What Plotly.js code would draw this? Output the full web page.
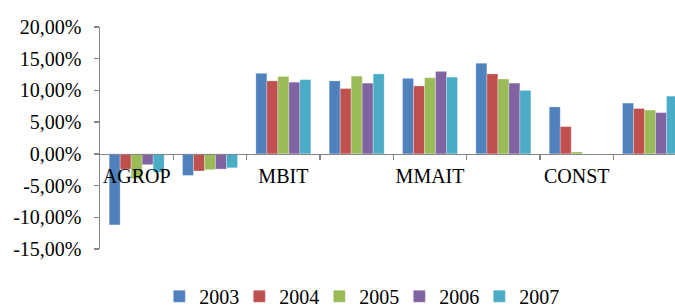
<!DOCTYPE html>
<html>
<head>
<meta charset="utf-8">
<script src="https://cdn.plot.ly/plotly-3.0.1.min.js"></script>
<style>html,body{margin:0;padding:0;background:#fff;}#chart{width:675px;height:307px;}</style>
</head>
<body>
<div id="chart"></div>
<script>
// Category labels as shown (every other label is hidden in the original chart)
const categories = ['AGROP', '', 'MBIT', '', 'MMAIT', '', 'CONST', ''];
const years = ['2003', '2004', '2005', '2006', '2007'];
const colors = ['#4F81BD', '#C0504D', '#9BBB59', '#8064A2', '#4BACC6'];

// Values in percent
const v2003 = [-11.2, -3.4, 12.7, 11.5, 11.9, 14.3, 7.4, 8.0];
const v2004 = [-2.4, -2.7, 11.5, 10.3, 10.7, 12.6, 4.3, 7.15];
const v2005 = [-3.9, -2.5, 12.2, 12.25, 12.0, 11.8, 0.3, 6.9];
const v2006 = [-1.7, -2.4, 11.3, 11.15, 13.0, 11.15, 0, 6.5];
const v2007 = [-2.9, -2.2, 11.7, 12.6, 12.1, 10.0, 0, 9.1];
const series = [v2003, v2004, v2005, v2006, v2007];

const yTicks = [-15, -10, -5, 0, 5, 10, 15, 20];
const yTickText = yTicks.map(v => v.toFixed(2).replace('.', ',') + '%');

const xIdx = categories.map((c, i) => i);
const labelIdx = xIdx.filter(i => categories[i] !== '');
const boundaries = xIdx.map(i => i + 0.5);

const traces = series.map((vals, k) => ({
  type: 'bar',
  name: years[k],
  x: xIdx,
  y: vals,
  marker: {color: colors[k], line: {color: 'rgba(255,255,255,0.45)', width: 0.6}},
  hoverinfo: 'skip'
}));

const font = {family: 'Liberation Serif, Times New Roman, serif', size: 20, color: '#000'};
const xRange = [-0.5, 7.34];
const zeroPos = 15 / 35;

const layout = {
  width: 675,
  height: 307,
  margin: {l: 100, r: 0, t: 27, b: 58},
  paper_bgcolor: '#fff',
  plot_bgcolor: '#fff',
  font: font,
  barmode: 'group',
  bargap: 0.25,
  bargroupgap: 0,
  showlegend: true,
  legend: {
    orientation: 'h',
    xref: 'paper',
    x: 0.451, xanchor: 'center',
    yref: 'container',
    y: 0.035, yanchor: 'middle',
    font: font,
    itemwidth: 30,
    entrywidth: 35,
    entrywidthmode: 'pixels',
    traceorder: 'normal'
  },
  xaxis: {
    range: xRange,
    anchor: 'free',
    position: zeroPos,
    tickmode: 'array',
    tickvals: boundaries,
    ticktext: boundaries.map(() => ''),
    ticks: 'outside',
    ticklen: 5,
    tickcolor: '#868686',
    tickwidth: 1.5,
    showline: true,
    linecolor: '#868686',
    linewidth: 1.5,
    showgrid: false,
    zeroline: false,
    fixedrange: true
  },
  xaxis2: {
    range: xRange,
    overlaying: 'x',
    anchor: 'free',
    position: zeroPos,
    side: 'bottom',
    tickmode: 'array',
    tickvals: labelIdx,
    ticktext: labelIdx.map(i => categories[i]),
    ticks: '',
    ticklabelstandoff: 8,
    showline: false,
    showgrid: false,
    zeroline: false,
    tickfont: font,
    fixedrange: true
  },
  yaxis: {
    range: [-15, 20],
    domain: [0, 1],
    tickmode: 'array',
    tickvals: yTicks,
    ticktext: yTickText,
    ticks: 'outside',
    ticklen: 5,
    tickcolor: '#868686',
    tickwidth: 1.5,
    showline: true,
    linecolor: '#868686',
    linewidth: 1.5,
    showgrid: false,
    zeroline: false,
    tickfont: font,
    ticklabelstandoff: 8,
    fixedrange: true
  }
};

// invisible helper trace so the label axis is drawn
traces.push({type: 'scatter', x: [], y: [], xaxis: 'x2', yaxis: 'y', showlegend: false, hoverinfo: 'skip'});

Plotly.newPlot('chart', traces, layout, {displayModeBar: false, staticPlot: true});
</script>
</body>
</html>
